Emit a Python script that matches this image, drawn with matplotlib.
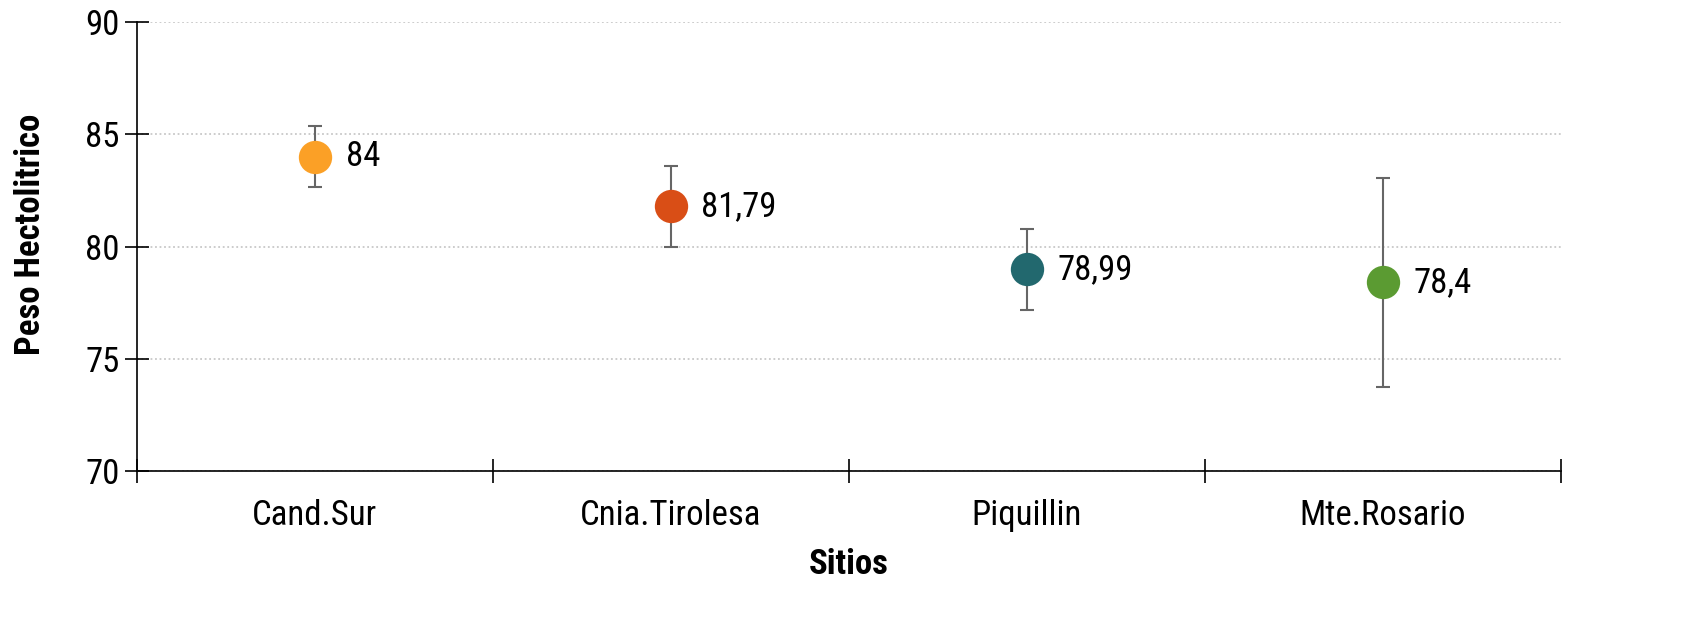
import matplotlib.pyplot as plt
from matplotlib import font_manager

sitios = ["Cand.Sur", "Cnia.Tirolesa", "Piquillin", "Mte.Rosario"]
medias = [84.0, 81.79, 78.99, 78.4]
errores = [1.36, 1.79, 1.8, 4.65]
etiquetas = ["84", "81,79", "78,99", "78,4"]
colores = ["#fba026", "#d94e16", "#22686e", "#5b9b32"]

disponibles = {f.name for f in font_manager.fontManager.ttflist}
fam = "Roboto"
for cand in ["Roboto Condensed", "Liberation Sans Narrow"]:
    if cand in disponibles:
        fam = cand
        break
plt.rcParams["font.family"] = fam

fig = plt.figure(figsize=(17, 6.3), dpi=100)
ax = fig.add_axes([0.0806, 0.2524, 0.8374, 0.7126])

xs = [i + 0.5 for i in range(len(sitios))]
for x, m, e, c, t in zip(xs, medias, errores, colores, etiquetas):
    ax.errorbar(x, m, yerr=e, fmt="none", ecolor="#666666", elinewidth=1.5,
                capsize=5, capthick=1.5, zorder=2)
    ax.plot(x, m, "o", color=c, markersize=24, markeredgewidth=0, zorder=3)
    ax.annotate(t, (x, m), xytext=(22, 0), textcoords="offset points",
                va="center", ha="left", fontsize=25)

ax.set_xlim(0, 4)
ax.set_ylim(70, 90)
ax.set_yticks([70, 75, 80, 85, 90])
ax.set_xticks([0, 1, 2, 3, 4])
ax.set_xticklabels([])
ax.set_xticks(xs, minor=True)
ax.set_xticklabels(sitios, minor=True)
ax.tick_params(axis="x", which="minor", length=0, labelsize=25, pad=20)
ax.tick_params(axis="x", which="major", direction="inout", length=17, width=1.2)
ax.tick_params(axis="y", direction="inout", length=17, width=1.2, labelsize=25, pad=4)

ax.yaxis.grid(True, linestyle=(0, (1, 1.5)), color="#c8c8c8", linewidth=1.3)
ax.set_axisbelow(True)
for s in ["top", "right"]:
    ax.spines[s].set_visible(False)
for s in ["left", "bottom"]:
    ax.spines[s].set_linewidth(1.2)

ax.set_xlabel("Sitios", fontsize=25, fontweight="bold", labelpad=12)
ax.set_ylabel("Peso Hectolitrico", fontsize=25, fontweight="bold")
ax.yaxis.set_label_coords(-0.063, 0.526)

fig.savefig("out.png", dpi=100)
